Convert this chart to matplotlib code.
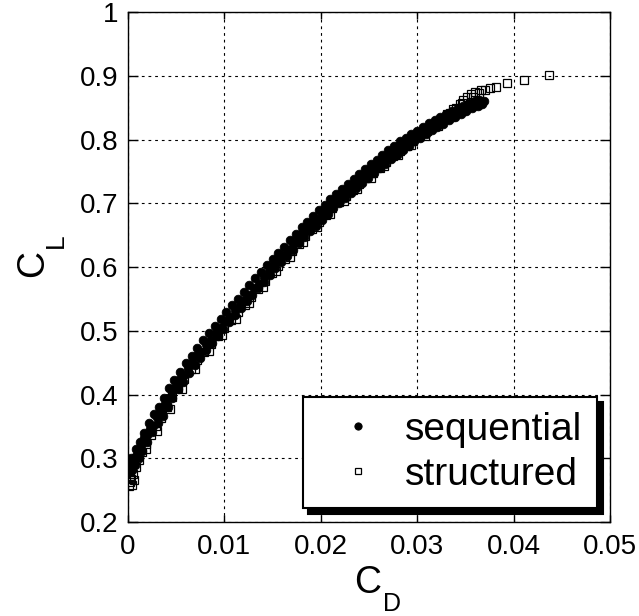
import matplotlib
matplotlib.use("Agg")
import matplotlib.pyplot as plt
from matplotlib.ticker import FuncFormatter

plt.rcParams['font.family'] = ['Liberation Sans', 'DejaVu Sans']

# ---- data ----
seq_cd = [0.0001, 0.0002, 0.0004, 0.0006, 0.0008, 0.0010, 0.0012, 0.0014, 0.0017, 0.0020,
          0.0023, 0.0026, 0.0030, 0.0034, 0.0038, 0.0042, 0.0046, 0.0050, 0.0054, 0.0058,
          0.0062, 0.0066, 0.0071, 0.0076, 0.0081, 0.0086, 0.0091, 0.0096, 0.0101, 0.0106,
          0.0111, 0.0116, 0.0121, 0.0126, 0.0131, 0.0136, 0.0141, 0.0146, 0.0151, 0.0156,
          0.0161, 0.0166, 0.0171, 0.0176, 0.0181, 0.0186, 0.0191, 0.0196, 0.0201, 0.0206,
          0.0211, 0.0217, 0.0223, 0.0229, 0.0235, 0.0241, 0.0247, 0.0253, 0.0259, 0.0265,
          0.0271, 0.0277, 0.0283, 0.0289, 0.0295, 0.0301, 0.0307, 0.0313, 0.0319, 0.0325,
          0.0331, 0.0337, 0.0343, 0.0349, 0.0355, 0.0361, 0.0366, 0.0369,
          0.0004, 0.0007, 0.0003, 0.0011, 0.0008, 0.0015, 0.0012, 0.0020, 0.0017, 0.0025,
          0.0022, 0.0031, 0.0027, 0.0036, 0.0032, 0.0041, 0.0037, 0.0046, 0.0043, 0.0052,
          0.0048, 0.0057, 0.0054, 0.0063, 0.0060, 0.0069, 0.0066, 0.0075, 0.0072, 0.0081,
          0.0078, 0.0087, 0.0084, 0.0093, 0.0090, 0.0099, 0.0096, 0.0105, 0.0102, 0.0111,
          0.0108, 0.0117, 0.0114, 0.0123, 0.0120, 0.0129, 0.0126, 0.0135, 0.0132, 0.0141,
          0.0138, 0.0147, 0.0144, 0.0153, 0.0150, 0.0159, 0.0156, 0.0165, 0.0162, 0.0171,
          0.0168, 0.0177, 0.0174, 0.0183, 0.0180, 0.0189, 0.0186, 0.0195, 0.0192, 0.0201,
          0.0198, 0.0207, 0.0204, 0.0213, 0.0210, 0.0219, 0.0216, 0.0225, 0.0222, 0.0231,
          0.0228, 0.0237, 0.0234, 0.0243, 0.0240, 0.0249, 0.0246, 0.0255, 0.0252, 0.0261,
          0.0258, 0.0267, 0.0264, 0.0273, 0.0270, 0.0279, 0.0276, 0.0285, 0.0282, 0.0291,
          0.0288, 0.0297, 0.0294, 0.0303, 0.0300, 0.0309, 0.0306, 0.0315, 0.0312, 0.0321,
          0.0318, 0.0327, 0.0324, 0.0333, 0.0330, 0.0339, 0.0336, 0.0345, 0.0342, 0.0351,
          0.0348, 0.0357, 0.0354, 0.0363, 0.0360, 0.0367, 0.0364]
seq_cl = [0.279, 0.285, 0.293, 0.297, 0.304, 0.308, 0.316, 0.321, 0.331, 0.336,
          0.346, 0.351, 0.364, 0.372, 0.385, 0.394, 0.406, 0.413, 0.424, 0.431,
          0.442, 0.449, 0.460, 0.467, 0.479, 0.486, 0.497, 0.504, 0.515, 0.521,
          0.532, 0.539, 0.549, 0.556, 0.567, 0.574, 0.585, 0.592, 0.603, 0.609,
          0.619, 0.626, 0.636, 0.642, 0.653, 0.659, 0.669, 0.675, 0.685, 0.691,
          0.701, 0.706, 0.716, 0.721, 0.730, 0.736, 0.745, 0.750, 0.760, 0.765,
          0.774, 0.780, 0.789, 0.794, 0.803, 0.806, 0.813, 0.817, 0.824, 0.827,
          0.834, 0.836, 0.843, 0.845, 0.851, 0.854, 0.858, 0.861,
          0.281, 0.290, 0.301, 0.300, 0.314, 0.312, 0.326, 0.326, 0.340, 0.341,
          0.356, 0.355, 0.369, 0.366, 0.381, 0.380, 0.395, 0.395, 0.410, 0.408,
          0.422, 0.419, 0.436, 0.434, 0.449, 0.446, 0.461, 0.458, 0.473, 0.470,
          0.485, 0.481, 0.496, 0.492, 0.508, 0.503, 0.518, 0.513, 0.529, 0.524,
          0.540, 0.535, 0.550, 0.546, 0.561, 0.556, 0.571, 0.567, 0.582, 0.577,
          0.592, 0.588, 0.603, 0.598, 0.613, 0.608, 0.622, 0.618, 0.632, 0.627,
          0.642, 0.637, 0.652, 0.647, 0.662, 0.656, 0.671, 0.665, 0.680, 0.674,
          0.689, 0.683, 0.697, 0.692, 0.706, 0.700, 0.714, 0.708, 0.722, 0.716,
          0.730, 0.724, 0.738, 0.732, 0.746, 0.740, 0.754, 0.747, 0.761, 0.755,
          0.768, 0.762, 0.776, 0.769, 0.783, 0.776, 0.790, 0.783, 0.797, 0.790,
          0.803, 0.797, 0.809, 0.803, 0.814, 0.809, 0.820, 0.815, 0.826, 0.820,
          0.831, 0.825, 0.835, 0.830, 0.840, 0.835, 0.844, 0.840, 0.849, 0.844,
          0.853, 0.849, 0.857, 0.853, 0.860, 0.856, 0.862]

str_cd = [0.0001, 0.0002, 0.0003, 0.0005, 0.0008, 0.0011, 0.0015, 0.0019, 0.0024, 0.0029,
          0.0034, 0.0040, 0.0046, 0.0052, 0.0058, 0.0065, 0.0072, 0.0079, 0.0086, 0.0093,
          0.0100, 0.0107, 0.0114, 0.0121, 0.0128, 0.0135, 0.0142, 0.0149, 0.0156, 0.0163,
          0.0170, 0.0177, 0.0184, 0.0191, 0.0198, 0.0205, 0.0212, 0.0219, 0.0226, 0.0233,
          0.0240, 0.0247, 0.0254, 0.0261, 0.0268, 0.0275, 0.0282, 0.0289, 0.0296, 0.0303,
          0.0310, 0.0317, 0.0324, 0.0331, 0.0337, 0.0344, 0.0348, 0.0352, 0.0356, 0.0360,
          0.0366, 0.0370, 0.0376, 0.0382, 0.0393, 0.0411, 0.0437,
          0.0004, 0.0006, 0.0002, 0.0019, 0.0030, 0.0044, 0.0056, 0.0070, 0.0084, 0.0098,
          0.0112, 0.0126, 0.0140, 0.0154, 0.0168, 0.0182, 0.0196, 0.0210, 0.0224, 0.0238,
          0.0252, 0.0266, 0.0280, 0.0294, 0.0308, 0.0322, 0.0334, 0.0340, 0.0346, 0.0358,
          0.0364]
str_cl = [0.257, 0.262, 0.267, 0.276, 0.287, 0.297, 0.310, 0.322, 0.336, 0.350,
          0.363, 0.380, 0.396, 0.410, 0.424, 0.440, 0.454, 0.467, 0.480, 0.492,
          0.505, 0.517, 0.529, 0.541, 0.553, 0.566, 0.578, 0.590, 0.602, 0.613,
          0.625, 0.636, 0.648, 0.659, 0.670, 0.681, 0.692, 0.702, 0.712, 0.721,
          0.730, 0.739, 0.748, 0.756, 0.765, 0.774, 0.782, 0.790, 0.798, 0.806,
          0.813, 0.821, 0.829, 0.840, 0.848, 0.856, 0.862, 0.867, 0.871, 0.874,
          0.877, 0.878, 0.881, 0.882, 0.889, 0.893, 0.901,
          0.258, 0.266, 0.272, 0.315, 0.342, 0.378, 0.408, 0.440, 0.468, 0.493,
          0.519, 0.543, 0.569, 0.593, 0.616, 0.639, 0.662, 0.683, 0.703, 0.722,
          0.740, 0.758, 0.775, 0.791, 0.806, 0.821, 0.842, 0.850, 0.858, 0.866,
          0.873]

x_ticks = [0, 0.01, 0.02, 0.03, 0.04, 0.05]
y_ticks = [0.2, 0.3, 0.4, 0.5, 0.6, 0.7, 0.8, 0.9, 1.0]
series_labels = ['sequential', 'structured']

W, H = 639, 616
fig = plt.figure(figsize=(W / 100, H / 100), dpi=100)
ax = fig.add_axes([0.2003, 0.1526, 0.7543, 0.8279])

ax.plot(seq_cd, seq_cl, linestyle='none', marker='o', ms=6.2, mfc='black',
        mec='black', mew=0.6, label=series_labels[0], zorder=3)
ax.plot(str_cd, str_cl, linestyle='none', marker='s', ms=5.8, mfc='none',
        mec='black', mew=0.9, label=series_labels[1], zorder=4)

ax.set_xlim(0, 0.05)
ax.set_ylim(0.2, 1.0)
ax.set_xticks(x_ticks)
ax.set_yticks(y_ticks)
fmt = FuncFormatter(lambda v, p: '%g' % round(v, 4))
ax.xaxis.set_major_formatter(fmt)
ax.yaxis.set_major_formatter(fmt)

ax.grid(True, color='black', linestyle=(0, (2.5, 3.5)), linewidth=0.8)
ax.set_axisbelow(True)
for s in ax.spines.values():
    s.set_linewidth(1.0)
ax.tick_params(axis='both', which='major', direction='in', top=True, right=True,
               labelsize=20, width=1.0, colors='black')
ax.tick_params(axis='y', length=7, pad=7)
ax.tick_params(axis='x', length=5, pad=9)

# axis labels with MATLAB-style deep subscripts (pixel positions from the reference)
def px(x, y):
    return x / W, 1 - y / H

fig.text(*px(354, 593), 'C', fontsize=27, ha='left', va='baseline')
fig.text(*px(383, 611), 'D', fontsize=18, ha='left', va='baseline')
fig.text(*px(43, 277), 'C', fontsize=27, ha='left', va='baseline',
         rotation=90, rotation_mode='anchor')
fig.text(*px(62.5, 248), 'L', fontsize=19, ha='left', va='baseline',
         rotation=90, rotation_mode='anchor')

leg = ax.legend(loc='lower right', bbox_to_anchor=(0.973, 0.027), borderaxespad=0,
                fontsize=28, fancybox=False, framealpha=1, edgecolor='black',
                handlelength=2.05, handletextpad=0.18, borderpad=0.39,
                labelspacing=0.24, markerscale=0.85,
                shadow={'ox': 4, 'oy': -4, 'color': 'black', 'alpha': 1})
leg.get_frame().set_linewidth(1.5)

fig.savefig('out.png', dpi=100)
